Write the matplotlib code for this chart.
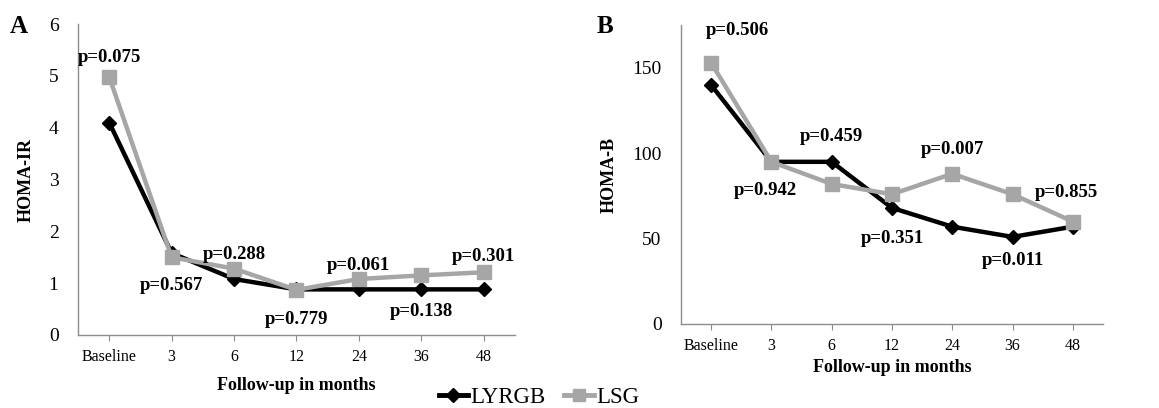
import numpy as np
import matplotlib.pyplot as plt
from matplotlib.lines import Line2D

plt.rcParams['font.family'] = ['Liberation Serif', 'DejaVu Serif']

# data
months = ['Baseline', '3', '6', '12', '24', '36', '48']

ir_lyrgb = [4.1, 1.58, 1.08, 0.88, 0.88, 0.88, 0.88]
ir_lsg = [4.98, 1.5, 1.28, 0.87, 1.08, 1.15, 1.21]
ir_p = ['p=0.075', 'p=0.567', 'p=0.288', 'p=0.779', 'p=0.061', 'p=0.138', 'p=0.301']
ir_p_y = [5.35, 0.95, 1.55, 0.3, 1.35, 0.45, 1.52]

b_lyrgb = [140, 95, 95, 68, 57, 51, 57]
b_lsg = [153, 95, 82, 76, 88, 76, 60]
b_p = ['p=0.506', 'p=0.942', 'p=0.459', 'p=0.351', 'p=0.007', 'p=0.011', 'p=0.855']
b_p_y = [172, 78, 110, 50, 102, 37, 77]
b_p_dx = [0.43, -0.1, 0, 0, 0, 0, -0.1]

black = '#000000'
grey = '#a6a6a6'
axcol = '#8c8c8c'

fig = plt.figure(figsize=(11.59, 4.08), dpi=100)
axA = fig.add_axes([0.0673, 0.179, 0.377, 0.762])
axB = fig.add_axes([0.5876, 0.206, 0.364, 0.732])

x = np.arange(len(months))


def style(ax):
    for s in ['top', 'right']:
        ax.spines[s].set_visible(False)
    for s in ['left', 'bottom']:
        ax.spines[s].set_color(axcol)
        ax.spines[s].set_linewidth(1.0)
    ax.tick_params(axis='y', length=0, labelsize=14, pad=14)
    ax.tick_params(axis='x', length=4, color=axcol, direction='out',
                   labelsize=11.5, pad=6)
    ax.set_xticks(x)
    ax.set_xticklabels(months)
    ax.set_xlim(-0.5, 6.5)


for ax, s1, s2, plab, py, ylab in [
        (axA, ir_lyrgb, ir_lsg, ir_p, ir_p_y, 'HOMA-IR'),
        (axB, b_lyrgb, b_lsg, b_p, b_p_y, 'HOMA-B')]:
    ax.plot(x, s1, color=black, lw=3.2, marker='D', ms=7, zorder=3)
    ax.plot(x, s2, color=grey, lw=3.2, marker='s', ms=10, zorder=4)
    style(ax)
    ax.set_ylabel(ylab, fontsize=13, fontweight='bold')
    for i, t in enumerate(plab):
        dx = b_p_dx[i] if ax is axB else 0
        ax.text(x[i] + dx, py[i], t, ha='center', va='center',
                fontsize=13.5, fontweight='bold', zorder=5)

axA.set_xlabel('Follow-up in months', fontsize=13, fontweight='bold', labelpad=9)
axB.set_xlabel('Follow-up in months', fontsize=13, fontweight='bold', labelpad=4)

axA.set_ylim(0, 6)
axA.set_yticks(range(0, 7))
axA.yaxis.set_label_coords(-0.1, 0.5)
axB.set_ylim(0, 175)
axB.set_yticks([0, 50, 100, 150])
axB.yaxis.set_label_coords(-0.15, 0.5)

fig.text(0.008, 0.92, 'A', fontsize=18, fontweight='bold')
fig.text(0.515, 0.92, 'B', fontsize=18, fontweight='bold')

handles = [Line2D([], [], color=black, lw=3.5, marker='D', ms=7),
           Line2D([], [], color=grey, lw=3.5, marker='s', ms=9)]
fig.legend(handles, ['LYRGB', 'LSG'], loc='lower center', ncol=2,
           bbox_to_anchor=(0.465, -0.05), frameon=False, fontsize=16.5,
           handlelength=1.3, handletextpad=0.1, columnspacing=0.8)

fig.savefig('out.png', dpi=100)
